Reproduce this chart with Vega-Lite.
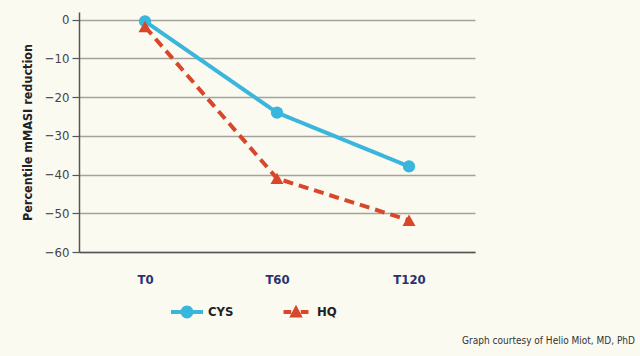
{
  "$schema": "https://vega.github.io/schema/vega-lite/v6.json",
  "width": 396,
  "height": 240,
  "autosize": {"type": "none"},
  "padding": {"left": 79, "top": 12, "right": 165, "bottom": 104},
  "background": "#fafaf1",
  "config": {
    "view": {"stroke": null},
    "font": "DejaVu Sans Condensed, Liberation Sans Narrow, sans-serif"
  },
  "title": {
    "text": "Graph courtesy of Helio Miot, MD, PhD",
    "orient": "bottom",
    "anchor": "end",
    "frame": "group",
    "dx": 160,
    "offset": 17,
    "fontSize": 10,
    "fontWeight": "normal",
    "color": "#333333",
    "font": "DejaVu Sans Condensed, Liberation Sans Narrow, sans-serif"
  },
  "data": {
    "values": [
      {"time": "T0", "series": "CYS", "value": -0.4},
      {"time": "T60", "series": "CYS", "value": -24},
      {"time": "T120", "series": "CYS", "value": -37.9},
      {"time": "T0", "series": "HQ", "value": -1.8},
      {"time": "T60", "series": "HQ", "value": -41},
      {"time": "T120", "series": "HQ", "value": -51.8}
    ]
  },
  "encoding": {
    "x": {
      "field": "time",
      "type": "ordinal",
      "sort": ["T0", "T60", "T120"],
      "scale": {"type": "point", "padding": 0.5},
      "axis": {
        "title": null,
        "labelAngle": 0,
        "ticks": false,
        "domain": true,
        "domainColor": "#555555",
        "domainWidth": 1.5,
        "labelPadding": 21,
        "labelFontSize": 13,
        "labelFontWeight": "bold",
        "labelColor": "#2b3170",
        "grid": false
      }
    },
    "y": {
      "field": "value",
      "type": "quantitative",
      "scale": {"domain": [-60, 2], "nice": false, "zero": false},
      "axis": {
        "title": "Percentile mMASI reduction",
        "titleFontSize": 12.5,
        "titleFontWeight": "bold",
        "titleColor": "#222222",
        "titlePadding": 10,
        "values": [0, -10, -20, -30, -40, -50, -60],
        "format": "d",
        "labelFontSize": 13,
        "labelColor": "#444444",
        "labelPadding": 3,
        "tickSize": 7,
        "tickColor": "#555555",
        "tickWidth": 1.2,
        "domainColor": "#555555",
        "domainWidth": 1.5,
        "grid": true,
        "gridColor": "#a3a39c",
        "gridWidth": 1.5
      }
    }
  },
  "layer": [
    {
      "mark": {"type": "line", "strokeWidth": 4},
      "encoding": {
        "color": {
          "field": "series",
          "type": "nominal",
          "scale": {"domain": ["CYS", "HQ"], "range": ["#3ab6dc", "#d9472b"]},
          "legend": {
            "title": null,
            "orient": "none",
            "direction": "horizontal",
            "legendX": 92,
            "legendY": 284,
            "padding": 0,
            "symbolSize": 1024,
            "symbolStrokeWidth": 0,
            "labelOffset": 5,
            "columnPadding": 46,
            "labelFontSize": 13,
            "labelFontWeight": "bold",
            "labelColor": "#222222",
            "encode": {
              "symbols": {
                "update": {
                  "shape": {"signal": "datum.value === 'CYS' ? 'M-1,-0.125 H-0.33 V0.125 H-1 Z M0.33,-0.125 H1 V0.125 H0.33 Z M0.4,0 A0.4,0.4 0 1,1 -0.4,0 A0.4,0.4 0 1,1 0.4,0 Z' : 'M-0.78,-0.125 H-0.3 V0.125 H-0.78 Z M0.3,-0.125 H0.78 V0.125 H0.3 Z M0,-0.45 L0.42,0.35 L-0.42,0.35 Z'"},
                  "fill": {"signal": "datum.value === 'CYS' ? '#3ab6dc' : '#d9472b'"},
                  "fillOpacity": {"value": 1},
                  "stroke": {"value": "transparent"},
                  "strokeWidth": {"value": 0},
                  "strokeDash": {"value": [1, 0]},
                  "opacity": {"value": 1}
                }
              }
            }
          }
        },
        "strokeDash": {
          "field": "series",
          "type": "nominal",
          "scale": {"domain": ["CYS", "HQ"], "range": [[1, 0], [10, 6]]},
          "legend": null
        }
      }
    },
    {
      "transform": [{"filter": "datum.series === 'CYS'"}],
      "mark": {"type": "point", "filled": true, "opacity": 1, "shape": "circle", "size": 150},
      "encoding": {
        "color": {"field": "series", "type": "nominal", "legend": null}
      }
    },
    {
      "transform": [{"filter": "datum.series === 'HQ'"}],
      "mark": {"type": "point", "filled": true, "opacity": 1, "shape": "triangle-up", "size": 170},
      "encoding": {
        "color": {"field": "series", "type": "nominal", "legend": null}
      }
    }
  ]
}
